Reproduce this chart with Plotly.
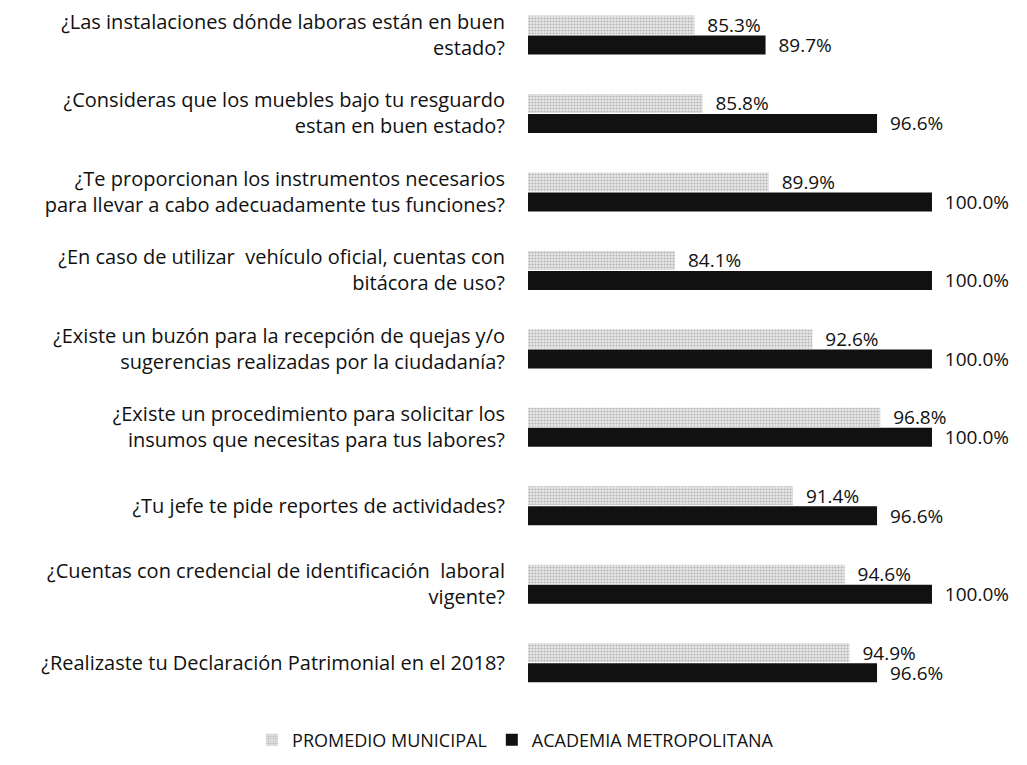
import plotly.graph_objects as go

categories = [
    "¿Las instalaciones dónde laboras están en buen<br>estado?",
    "¿Consideras que los muebles bajo tu resguardo<br>estan en buen estado?",
    "¿Te proporcionan los instrumentos necesarios<br>para llevar a cabo adecuadamente tus funciones?",
    "¿En caso de utilizar  vehículo oficial, cuentas con<br>bitácora de uso?",
    "¿Existe un buzón para la recepción de quejas y/o<br>sugerencias realizadas por la ciudadanía?",
    "¿Existe un procedimiento para solicitar los<br>insumos que necesitas para tus labores?",
    "¿Tu jefe te pide reportes de actividades?",
    "¿Cuentas con credencial de identificación  laboral<br>vigente?",
    "¿Realizaste tu Declaración Patrimonial en el 2018?",
]
promedio_municipal = [85.3, 85.8, 89.9, 84.1, 92.6, 96.8, 91.4, 94.6, 94.9]
academia_metropolitana = [89.7, 96.6, 100.0, 100.0, 100.0, 100.0, 96.6, 100.0, 96.6]

FONT = "Open Sans"
fig = go.Figure()
fig.add_trace(go.Bar(
    y=categories, x=promedio_municipal, orientation="h", name="PROMEDIO MUNICIPAL",
    marker=dict(color="#d9d9d9", line=dict(width=0),
                pattern=dict(shape=".", fgcolor="#808080", bgcolor="#e8e8e8", size=3, solidity=0.4)),
    text=[f"\u00a0\u00a0{v:.1f}%" for v in promedio_municipal], textposition="outside",
    constraintext="none",
    textfont=dict(family=FONT, size=19, color="#111111"), cliponaxis=False,
))
fig.add_trace(go.Bar(
    y=categories, x=academia_metropolitana, orientation="h", name="ACADEMIA METROPOLITANA",
    marker=dict(color="#111111", line=dict(width=0)),
    text=[f"\u00a0\u00a0{v:.1f}%" for v in academia_metropolitana], textposition="outside",
    constraintext="none",
    textfont=dict(family=FONT, size=19, color="#111111"), cliponaxis=False,
))
fig.update_layout(
    width=1019, height=757,
    margin=dict(l=520, r=0, t=0, b=63, autoexpand=False),
    paper_bgcolor="white", plot_bgcolor="white",
    barmode="group", bargap=0.49, bargroupgap=0.05,
    font=dict(family=FONT, size=20, color="#111111"),
    xaxis=dict(range=[75, 105.88], visible=False),
    yaxis=dict(range=[8.5, -0.344], showgrid=False, showline=False, ticks="", automargin=False,
               ticklabelstandoff=22, tickfont=dict(family=FONT, size=20, color="#111111")),
    legend=dict(orientation="h", xref="paper", yref="paper", x=-0.553, y=-0.055,
                xanchor="left", yanchor="middle", font=dict(family=FONT, size=18),
                itemwidth=30, traceorder="normal"),
    showlegend=True,
)
fig.write_html("out.html")
